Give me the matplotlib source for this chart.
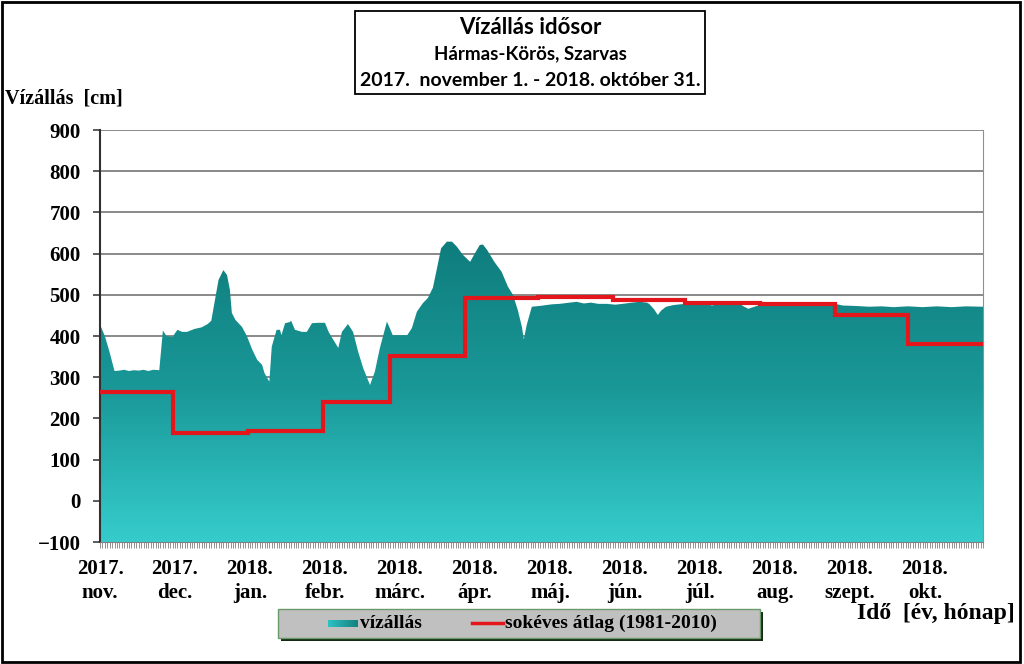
import numpy as np
import pandas as pd
import matplotlib
matplotlib.use("Agg")
import matplotlib.pyplot as plt
from matplotlib.colors import LinearSegmentedColormap
from matplotlib.patches import Rectangle

# napi vízállás (nap a 2017.11.01-től, cm)
nap = [0, 2, 4, 6, 8, 10, 12, 14, 16, 18, 20, 22, 24.5, 26, 27.5, 30, 32, 34, 36, 39,
       42, 44.5, 46, 47.5, 49, 51, 52.5, 53.7, 54.5, 56, 58.7, 60.7, 63, 65, 67, 68, 70,
       71, 73, 74.4, 75, 76.5, 78.5, 79, 80.6, 83.5, 85.5, 87.6, 90, 93, 94.5, 96, 98.5,
       100, 102.5, 104.6, 106.7, 108.8, 111.6, 113.6, 115.7, 118.6, 119.8, 121, 124, 127,
       128.9, 131, 133.5, 135.5, 137.6, 139, 141, 143.4, 145.5, 147.5, 150, 153, 155, 157,
       158.3, 160, 163, 166, 168.6, 170.7, 172.7, 174.4, 175.2, 176.4, 178.5, 181.8, 187,
       190, 197, 200, 203, 206, 209.5, 213, 216, 220, 223, 226, 227, 229, 230.6, 232, 234,
       237, 240, 244, 248, 251, 253, 256, 260, 264.5, 266, 268, 270, 271.5, 274, 277, 280,
       285, 290, 295, 300, 304, 307, 312, 318, 323, 328, 334, 340, 346, 352, 358, 365]
vizallas = [428, 400, 360, 315, 316, 318, 315, 317, 316, 318, 315, 318, 317, 413, 400, 398,
            415, 410, 410, 417, 421, 429, 437, 487, 536, 560, 548, 512, 456, 439, 422, 400,
            366, 342, 330, 310, 289, 374, 415, 415, 402, 431, 434, 437, 415, 410, 410, 431,
            432, 432, 410, 395, 371, 410, 429, 410, 362, 322, 281, 313, 371, 435, 419, 402,
            402, 402, 419, 459, 480, 492, 517, 556, 613, 629, 629, 617, 597, 580, 601, 621,
            622, 609, 580, 556, 520, 500, 463, 422, 392, 427, 471, 473, 477, 478, 483, 479,
            481, 478, 478, 476, 478, 481, 483, 481, 478, 465, 451, 462, 471, 475, 477, 478,
            479, 477, 474, 478, 478, 478, 472, 466, 470, 473, 474, 478, 476, 479, 480, 479,
            480, 478, 474, 473, 471, 472, 470, 472, 470, 472, 470, 472, 471]

# sokéves havi átlag (1981-2010), nov..okt
atlag = [265, 165, 170, 240, 352, 493, 495, 488, 480, 478, 452, 380]

honap_cimkek = ["2017.\nnov.", "2017.\ndec.", "2018.\njan.", "2018.\nfebr.", "2018.\nmárc.",
                "2018.\nápr.", "2018.\nmáj.", "2018.\njún.", "2018.\njúl.", "2018.\naug.",
                "2018.\nszept.", "2018.\nokt."]

start = pd.Timestamp("2017-11-01")
honap_kezd = pd.date_range("2017-11-01", "2018-11-01", freq="MS")
hatarok = [(d - start).days for d in honap_kezd]

serif = ["Liberation Serif", "DejaVu Serif"]

fig = plt.figure(figsize=(10.24, 6.64), dpi=100)
ax = fig.add_axes([100 / 1024, 1 - 542 / 664, 883 / 1024, 412 / 664])

ax.set_xlim(0, 365)
ax.set_ylim(-100, 900)
ax.set_axisbelow(True)
ax.yaxis.grid(True, color="#808080", lw=1.3, zorder=0)

# vízállás - függőleges színátmenet
cmap = LinearSegmentedColormap.from_list("viz", ["#36cccc", "#1a9898", "#0f7c7c"])
grad = np.linspace(0, 1, 256).reshape(-1, 1)
im = ax.imshow(grad, extent=[0, 365, -100, 640], origin="lower", aspect="auto",
               cmap=cmap, zorder=1)
poly = ax.fill_between(nap, vizallas, -100, color="none", lw=0)
im.set_clip_path(poly.get_paths()[0], transform=ax.transData)

# sokéves átlag
ax.stairs(atlag, hatarok, color="#e3161b", lw=3, zorder=3, baseline=None)

ax.set_yticks(np.arange(-100, 901, 100))
ax.set_xticks(np.arange(0, 365, 31))
ax.set_xticklabels(honap_cimkek, linespacing=1.3)
ax.set_xticks(np.arange(0, 366, 1), minor=True)

for lab in ax.get_yticklabels() + ax.get_xticklabels():
    lab.set_family(serif)
    lab.set_fontweight("bold")
    lab.set_fontsize(15)

ax.tick_params(axis="y", direction="out", length=5, width=1.2, pad=9, color="#404040")
ax.tick_params(axis="x", which="major", direction="out", length=4, width=0.6, pad=8,
               color="#808080")
ax.tick_params(axis="x", which="minor", direction="out", length=4, width=0.6, color="#808080")

ax.spines["top"].set_visible(False)
ax.spines["left"].set_color("#303030")
ax.spines["left"].set_linewidth(1.5)
ax.spines["right"].set_color("#909090")
ax.spines["bottom"].set_color("#808080")

# tengelyfeliratok
fig.text(5 / 1024, 1 - 98 / 664, "Vízállás  [cm]", family=serif, fontweight="bold",
         fontsize=14.5, ha="left", va="center")
fig.text(1015 / 1024, 1 - 614 / 664, "Idő  [év, hónap]", family=serif, fontweight="bold",
         fontsize=17, ha="right", va="center")

# cím doboz
fig.patches.append(Rectangle((355 / 1024, 1 - 94 / 664), 350 / 1024, 83 / 664,
                             transform=fig.transFigure, fill=False, ec="black", lw=1.3))
cim_font = ["Lato", "DejaVu Sans"]
fig.text(530 / 1024, 1 - 28 / 664, "Vízállás idősor", family=cim_font, fontweight="bold",
         fontsize=16, ha="center", va="center")
fig.text(530 / 1024, 1 - 54 / 664, "Hármas-Körös, Szarvas", family=cim_font,
         fontweight="bold", fontsize=13.5, ha="center", va="center")
fig.text(530 / 1024, 1 - 80 / 664, "2017.  november 1. - 2018. október 31.", family=cim_font,
         fontweight="bold", fontsize=14, ha="center", va="center")

# jelmagyarázat
fig.patches.append(Rectangle((281 / 1024, 1 - 641 / 664), 482 / 1024, 29 / 664,
                             transform=fig.transFigure, fc="#142814", ec="none"))
fig.patches.append(Rectangle((278 / 1024, 1 - 638 / 664), 482 / 1024, 29 / 664,
                             transform=fig.transFigure, fc="#c0c0c0", ec="#6a9a6a", lw=1))
lax = fig.add_axes([328 / 1024, 1 - 627 / 664, 30 / 1024, 7 / 664], zorder=5)
lax.imshow(np.linspace(0, 1, 64).reshape(1, -1), aspect="auto",
           cmap=LinearSegmentedColormap.from_list("lg", ["#2fc2c2", "#15807f"]))
lax.axis("off")
fig.text(360 / 1024, 1 - 623 / 664, "vízállás", family=serif, fontweight="bold",
         fontsize=14, ha="left", va="center")
fig.lines.append(plt.Line2D([472 / 1024, 503 / 1024], [1 - 623 / 664, 1 - 623 / 664],
                            transform=fig.transFigure, color="#e3161b", lw=2.5))
fig.text(505 / 1024, 1 - 623 / 664, "sokéves átlag (1981-2010)", family=serif,
         fontweight="bold", fontsize=14, ha="left", va="center")

# külső keret
fig.patches.append(Rectangle((0.002, 0.003), 0.994, 0.994, transform=fig.transFigure,
                             fill=False, ec="black", lw=2))

fig.savefig("out.png", dpi=100)
